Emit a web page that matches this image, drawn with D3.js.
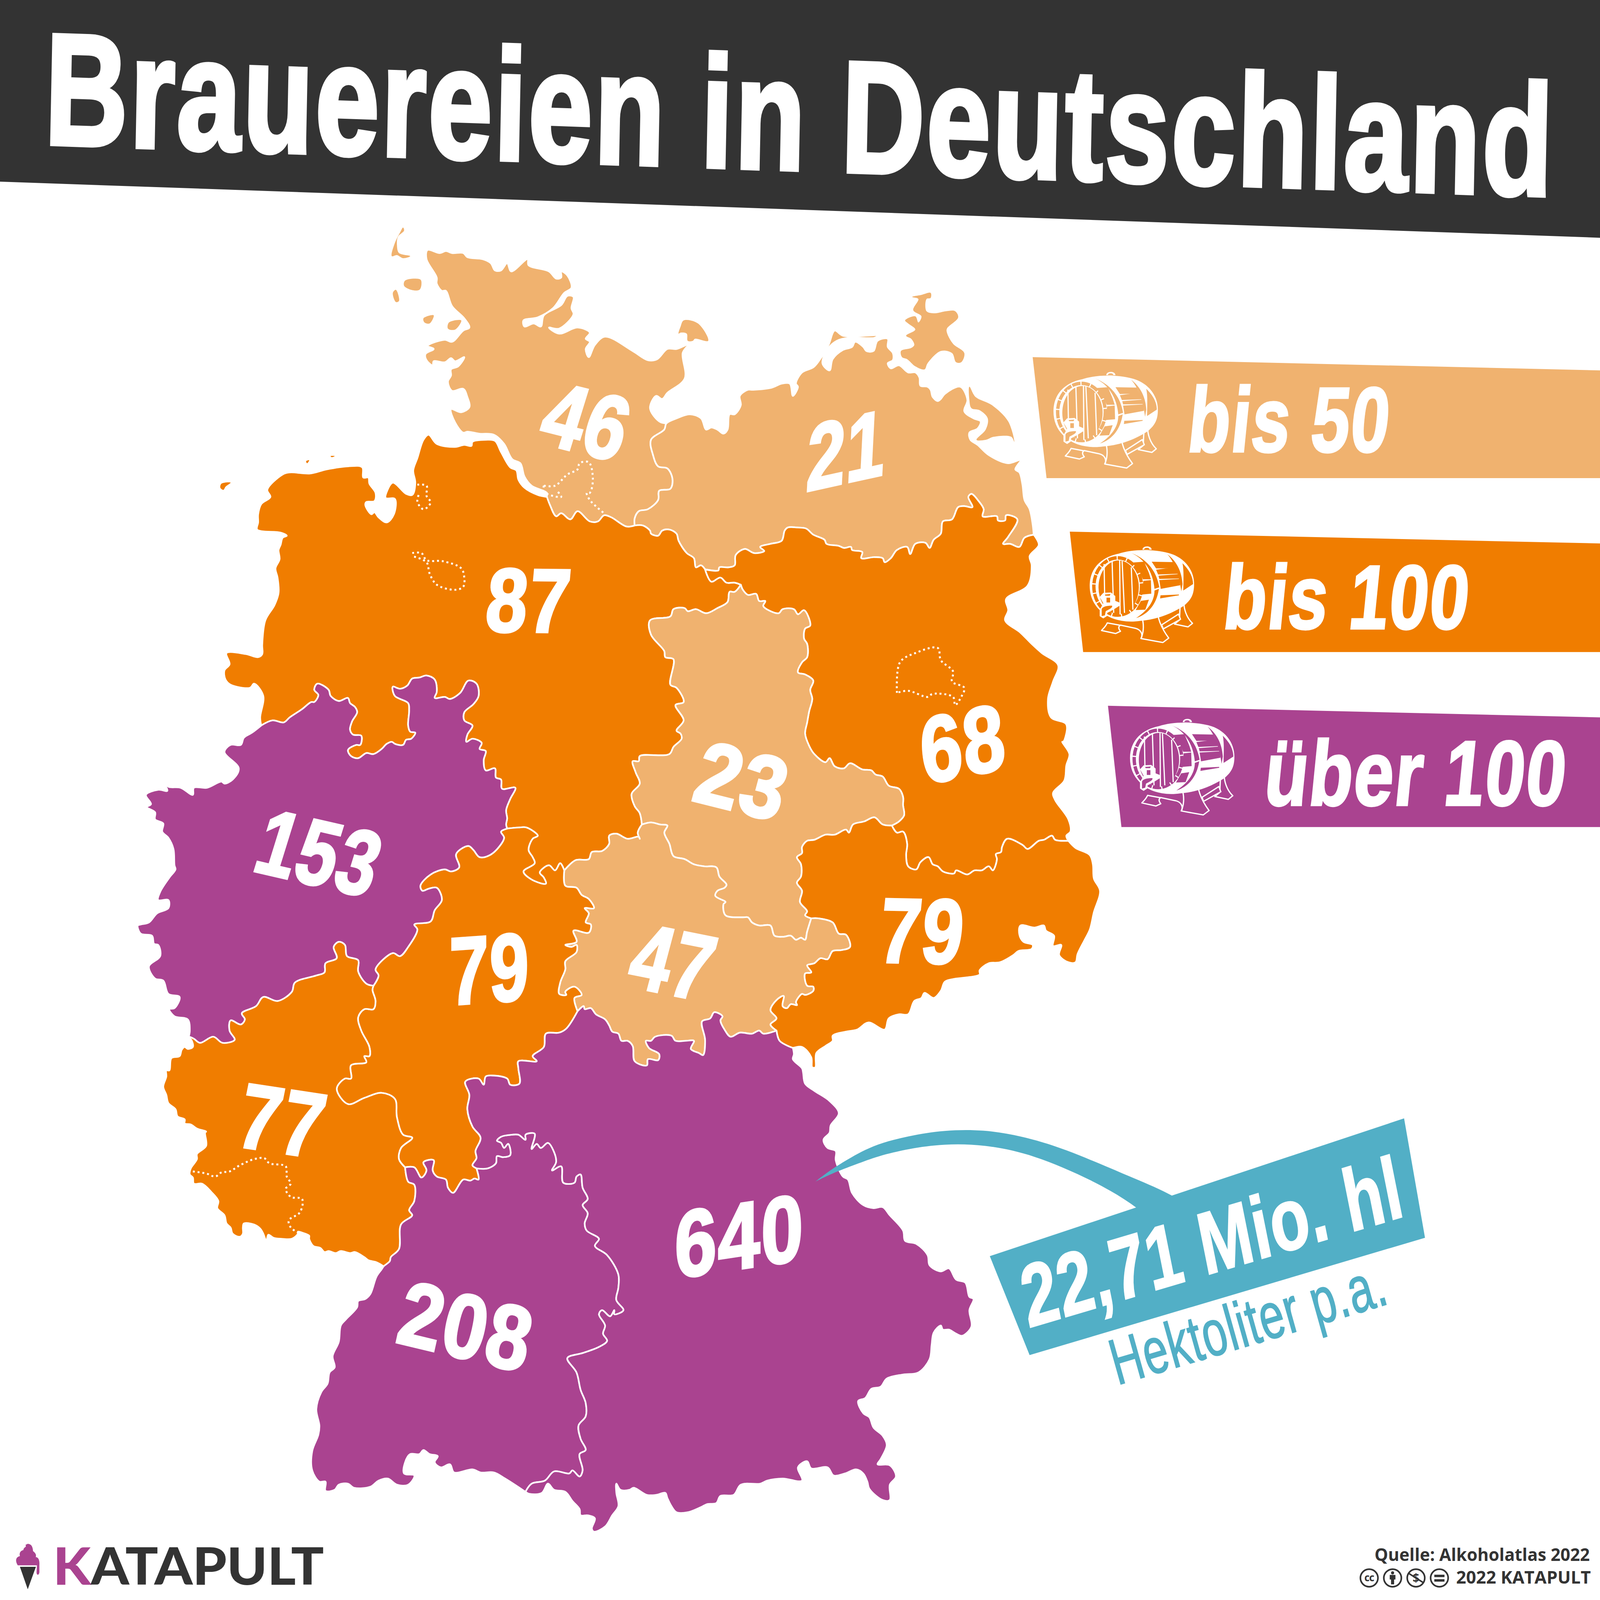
<!DOCTYPE html>
<meta charset="utf-8">
<title>Brauereien in Deutschland</title>
<style>
  html, body { margin: 0; background: #fff; overflow: hidden; }
  svg { display: block; }
</style>
<body>
<script src="https://d3js.org/d3.v7.min.js"></script>
<script>
// values
var states = ["SH", "MV", "NI", "BB", "ST", "SN", "TH", "HE", "NW", "RP", "BW", "BY"];
var breweries = [46, 21, 87, 68, 23, 79, 47, 79, 153, 77, 208, 640];
var classBreaks = [50, 100];
var classColours = ["#f0b26f", "#f07d00", "#aa4390"];
var legendLabels = ["bis 50", "bis 100", "über 100"];
var hectolitres = "22,71 Mio. hl";
var hectolitresNote = "Hektoliter p.a.";

// borders between the states, in picture units (1568 wide)
var shNorth = [[419,245],[431,248],[437,246],[443,248],[454,248],[458,252],[473,254],[481,258],[485,265],[491,265],[497,258],[501,266],[517,254],[518,260],[538,266],[545,273],[550,272],[550,266],[556,270],[560,282],[553,287],[542,302],[527,311],[513,314],[514,320],[523,317],[530,320],[533,309],[550,299],[556,290],[562,291],[560,302],[562,308],[548,322],[538,321],[548,327],[566,321],[578,326],[574,332],[578,335],[574,342],[577,350],[583,338],[593,330],[620,344],[635,353],[644,352],[654,342],[663,342],[674,338],[669,346],[671,371],[654,385],[649,391],[643,388],[637,400],[646,413],[653,415]];
var mvSh = [[653,415],[651,421],[638,431],[640,446],[645,457],[654,459],[659,469],[657,479],[646,481],[645,490],[635,499],[626,501],[622,508],[622,515]];
var shElbe = [[622,515],[614,516],[599,507],[592,505],[586,511],[578,511],[566,501],[559,509],[550,503],[545,506],[539,495],[536,487]];
var shWest = [[536,483],[521,476],[514,467],[510,454],[502,450],[494,435],[484,426],[470,425],[458,423],[454,424],[446,414],[442,401],[452,404],[460,399],[458,389],[454,381],[443,383],[439,374],[442,368],[442,362],[449,359],[455,350],[446,354],[442,351],[436,355],[425,354],[424,358],[418,353],[417,347],[425,342],[419,339],[436,333],[443,335],[454,324],[460,321],[455,312],[443,300],[437,285],[433,285],[428,278],[428,272],[418,254]];
var mvCoast = [[1013,524],[1012,514],[1009,499],[1004,490],[1002,475],[999,463],[995,460],[1000,451],[988,454],[969,446],[958,436],[951,431],[950,424],[958,420],[961,413],[954,410],[945,403],[948,392],[941,379],[926,386],[922,391],[919,393],[914,389],[912,382],[909,379],[902,378],[901,370],[897,365],[890,365],[881,358],[873,361],[870,356],[875,353],[875,346],[870,340],[870,332],[860,334],[856,344],[849,344],[846,340],[838,335],[835,340],[826,343],[816,352],[813,363],[806,356],[812,341],[820,334],[832,331],[857,331],[860,329],[826,329],[818,324],[812,338],[803,353],[797,360],[786,365],[780,376],[782,379],[777,388],[774,376],[766,376],[756,380],[738,382],[733,382],[725,388],[726,397],[720,406],[715,406],[713,421],[709,425],[703,421],[697,419],[692,421],[687,410],[676,406],[663,410]];
var mvNi = [[622,515],[630,515],[637,520],[638,523],[645,525],[649,520],[656,519],[663,523],[665,530],[673,542],[680,547],[682,556],[687,554],[691,558]];
var bbNi = [[726,573],[720,571],[712,571],[706,566],[697,570],[691,558]];
var mvBb = [[691,558],[704,559],[705,556],[714,556],[720,554],[721,544],[730,538],[739,542],[749,540],[745,536],[755,533],[766,530],[769,520],[772,517],[782,517],[790,518],[797,524],[808,529],[810,533],[822,535],[827,537],[834,536],[835,539],[845,541],[844,547],[857,546],[865,547],[867,551],[873,547],[879,539],[889,536],[892,543],[897,533],[907,532],[911,537],[915,529],[922,523],[924,511],[933,509],[939,497],[945,496],[953,497],[949,487],[952,484],[959,491],[964,499],[963,506],[977,506],[978,510],[985,510],[986,505],[997,509],[988,526],[983,533],[990,533],[999,536],[1004,527],[1013,524]];
var bbCoast = [[1013,524],[1018,534],[1009,545],[1011,554],[1007,574],[986,587],[988,598],[985,608],[1000,620],[1011,631],[1021,640],[1037,652],[1032,668],[1027,685],[1030,703],[1045,710],[1042,727],[1041,727],[1048,739],[1045,750],[1043,765],[1032,777],[1034,784],[1047,803],[1049,815],[1045,819],[1047,824]];
var bbSn = [[874,809],[879,816],[885,815],[889,827],[888,838],[890,849],[898,852],[902,845],[910,840],[914,847],[919,849],[924,854],[935,856],[937,853],[948,857],[955,853],[962,853],[969,849],[973,853],[977,842],[976,837],[981,835],[982,830],[987,822],[1002,828],[1007,832],[1018,824],[1023,823],[1031,819],[1034,823],[1047,824]];
var stBb = [[726,573],[728,578],[733,583],[741,582],[744,589],[750,589],[748,594],[763,601],[767,597],[778,597],[782,602],[788,598],[794,613],[789,616],[788,626],[791,631],[791,644],[786,649],[782,659],[789,661],[797,667],[794,676],[796,685],[793,697],[791,708],[789,719],[793,731],[798,739],[809,747],[813,743],[818,751],[827,753],[833,748],[845,754],[854,755],[858,759],[865,761],[871,770],[881,773],[885,781],[885,789],[886,799],[881,805],[874,809]];
var stSn = [[874,809],[865,808],[857,801],[847,805],[836,808],[832,816],[829,813],[818,818],[809,818],[798,823],[791,824],[786,830],[786,836],[781,840],[785,847],[785,859],[781,865],[786,873],[784,884],[791,893],[789,897],[795,900]];
var stTh = [[795,900],[791,913],[789,921],[785,919],[780,921],[775,917],[768,918],[759,917],[755,907],[744,907],[737,904],[733,899],[728,899],[711,897],[709,886],[711,884],[701,878],[703,873],[710,870],[712,867],[705,859],[702,850],[690,849],[680,847],[671,842],[660,839],[656,827],[651,816],[654,809],[647,808],[638,806],[629,808]];
var stNi = [[629,808],[627,797],[622,790],[619,778],[627,768],[623,757],[620,746],[626,746],[627,741],[656,739],[660,732],[668,724],[667,719],[663,716],[670,706],[662,691],[670,688],[663,674],[657,671],[660,646],[652,644],[651,638],[638,622],[637,608],[657,604],[660,597],[671,596],[674,599],[682,597],[692,601],[703,596],[713,590],[715,580],[720,580],[726,573]];
var thNi = [[553,853],[564,843],[577,842],[580,835],[590,834],[597,827],[597,819],[604,817],[615,822],[626,820],[627,822],[625,816],[629,808]];
var heNi = [[497,812],[508,811],[516,811],[527,819],[522,822],[518,833],[522,840],[524,846],[513,854],[521,862],[535,866],[533,860],[529,855],[538,848],[544,853],[549,846],[553,853]];
var heTh = [[566,991],[563,978],[570,975],[563,967],[554,972],[555,975],[548,974],[549,963],[554,950],[554,942],[565,933],[565,926],[560,928],[554,926],[565,923],[562,912],[577,914],[579,906],[574,904],[577,895],[573,890],[582,890],[577,881],[570,877],[565,870],[554,868],[553,853]];
var thSn = [[795,900],[802,900],[816,904],[822,915],[829,916],[833,928],[825,931],[816,932],[811,940],[804,939],[798,944],[791,946],[795,953],[789,954],[791,966],[797,967],[797,971],[789,975],[786,974],[780,982],[781,985],[775,984],[771,988],[767,986],[768,976],[761,980],[755,990],[761,998],[755,1004],[761,1010]];
var thBy = [[566,991],[572,986],[573,989],[579,988],[584,994],[593,999],[597,1005],[600,1011],[606,1013],[609,1020],[615,1020],[620,1025],[622,1040],[634,1044],[635,1038],[645,1039],[646,1033],[636,1027],[633,1020],[638,1020],[642,1016],[658,1015],[662,1020],[672,1020],[680,1020],[677,1028],[685,1032],[689,1034],[691,1019],[688,1001],[696,998],[700,992],[708,996],[706,1000],[710,1009],[716,1016],[725,1012],[737,1013],[744,1010],[748,1013],[761,1010]];
var snBy = [[761,1010],[764,1020],[777,1027]];
var snCoast = [[1047,824],[1054,831],[1068,838],[1071,847],[1072,861],[1078,873],[1072,894],[1068,911],[1063,921],[1056,935],[1054,943],[1047,943],[1038,936],[1040,926],[1032,927],[1033,917],[1025,912],[1023,907],[1014,909],[1000,907],[999,916],[1003,923],[1012,926],[1011,930],[998,932],[993,936],[980,943],[969,944],[960,951],[960,955],[946,958],[937,959],[926,962],[922,971],[915,978],[906,973],[903,978],[896,981],[890,994],[881,994],[871,998],[867,1009],[851,1002],[840,1009],[829,1011],[816,1015],[816,1020],[809,1025],[800,1032],[799,1046],[796,1046],[795,1036],[786,1026],[777,1027]];
var byEast = [[777,1027],[778,1033],[777,1038],[786,1047],[787,1051],[789,1062],[798,1069],[813,1079],[822,1091],[814,1103],[813,1110],[807,1117],[811,1125],[819,1128],[819,1137],[826,1153],[831,1156],[835,1169],[846,1181],[856,1184],[865,1183],[872,1191],[885,1206],[887,1216],[898,1219],[909,1230],[911,1240],[922,1246],[930,1243],[937,1254],[946,1257],[950,1271],[954,1273],[950,1284],[952,1300],[943,1309],[937,1307],[930,1303],[924,1303],[922,1299],[915,1306],[913,1318],[911,1332],[900,1345],[885,1347],[869,1351],[863,1359],[854,1361],[848,1370],[841,1373],[846,1385],[852,1389],[856,1399],[865,1407],[869,1416],[863,1430],[860,1435],[872,1436],[878,1447],[872,1455],[872,1470],[865,1470],[852,1459],[850,1452],[846,1444],[839,1440],[828,1444],[817,1446],[811,1438],[795,1439],[791,1432],[782,1438],[786,1451],[767,1449],[752,1451],[745,1454],[726,1455],[719,1465],[706,1466],[702,1473],[693,1474],[687,1477],[674,1482],[663,1482],[658,1476],[654,1468],[652,1463],[643,1465],[634,1465],[621,1458],[617,1460],[608,1460],[604,1454],[604,1463],[606,1476],[600,1485],[593,1496],[582,1501],[580,1498],[583,1488],[576,1485],[569,1485],[568,1479],[561,1471],[554,1462],[543,1460],[537,1454],[531,1463],[519,1464],[515,1462]];
var nwCoast = [[536,487],[527,485],[514,478],[508,470],[506,461],[500,458],[491,443],[485,432],[476,431],[463,433],[462,437],[455,436],[446,438],[428,435],[420,426],[415,431],[409,449],[405,461],[407,473],[404,485],[398,484],[385,473],[379,482],[378,488],[387,489],[386,504],[379,512],[371,507],[367,502],[364,504],[358,495],[359,492],[367,491],[368,483],[362,474],[361,468],[356,468],[355,458],[341,457],[320,460],[304,464],[284,463],[277,465],[262,480],[265,487],[256,494],[253,504],[253,512],[252,519],[275,522],[281,525],[277,527],[275,534],[273,539],[274,548],[270,557],[272,566],[273,581],[269,593],[260,608],[257,632],[257,641],[253,644],[241,641],[222,640],[225,651],[220,657],[221,666],[226,671],[245,674],[249,670],[258,682],[255,703],[256,711]];
var niNrw = [[256,711],[267,706],[278,708],[284,703],[296,695],[305,688],[308,688],[312,681],[308,676],[311,670],[322,676],[324,682],[332,687],[341,684],[343,689],[348,693],[350,698],[345,707],[343,715],[346,720],[354,721],[353,730],[349,730],[341,735],[344,741],[351,743],[359,738],[366,739],[374,734],[379,729],[384,727],[387,729],[395,730],[398,725],[403,724],[407,718],[402,717],[400,711],[401,696],[400,689],[387,682],[385,673],[392,675],[399,672],[404,665],[411,664],[418,662],[426,666],[428,678],[426,684],[436,683],[441,685],[451,679],[459,667],[467,670],[469,682],[464,690],[455,698],[455,706],[463,711],[458,720],[457,727],[463,724],[472,728],[470,734],[476,736],[474,745],[476,755],[485,753],[486,762],[491,764],[492,773],[505,772],[500,783],[496,794],[497,802],[496,808],[497,812]];
var heNrw = [[366,966],[371,956],[368,950],[385,934],[392,937],[400,928],[409,911],[406,906],[422,903],[426,892],[433,882],[428,870],[420,871],[414,873],[412,868],[422,857],[436,852],[442,854],[450,850],[447,837],[459,829],[464,833],[470,840],[480,838],[489,830],[494,821],[491,815],[497,812]];
var nrwCoast = [[256,711],[247,718],[239,723],[236,730],[226,730],[220,737],[234,753],[228,764],[220,768],[217,766],[203,772],[190,772],[189,779],[177,772],[165,771],[160,766],[164,775],[155,774],[143,779],[148,788],[144,791],[152,796],[152,803],[160,807],[159,815],[165,821],[170,832],[171,848],[172,852],[166,860],[157,874],[155,882],[165,882],[165,890],[154,895],[146,904],[138,906],[135,907],[138,915],[149,917],[151,925],[155,926],[157,937],[146,947],[152,959],[160,961],[165,974],[176,977],[171,988],[166,989],[171,996],[184,999],[186,1010],[185,1016]];
var nrwRp = [[185,1016],[190,1018],[196,1022],[209,1016],[218,1022],[230,1019],[225,1010],[226,1000],[236,1004],[240,999],[237,993],[251,986],[258,977],[272,981],[286,972],[289,963],[310,956],[318,953],[319,944],[330,939],[327,928],[332,923],[338,926],[340,937],[351,941],[351,952],[359,964],[366,966]];
var heRp = [[366,966],[365,970],[368,981],[366,989],[357,989],[351,997],[354,1010],[362,1026],[362,1035],[357,1035],[359,1041],[344,1044],[344,1057],[338,1057],[330,1067],[341,1082],[357,1076],[374,1071],[387,1077],[389,1095],[395,1112],[404,1115],[393,1125],[391,1136],[397,1144]];
var rpBw = [[397,1144],[400,1158],[406,1161],[406,1177],[401,1186],[404,1191],[393,1200],[391,1224],[383,1232],[382,1236],[376,1241]];
var rpCoast = [[376,1241],[369,1237],[361,1235],[357,1232],[348,1227],[343,1228],[334,1226],[329,1228],[322,1226],[318,1227],[314,1223],[307,1221],[303,1214],[303,1211],[296,1208],[292,1207],[292,1209],[286,1214],[276,1214],[268,1213],[263,1210],[261,1216],[258,1209],[255,1204],[249,1200],[239,1199],[238,1203],[238,1209],[235,1212],[228,1209],[226,1203],[222,1199],[220,1191],[213,1184],[214,1177],[207,1168],[198,1160],[190,1160],[189,1154],[186,1151],[187,1145],[193,1136],[193,1131],[202,1123],[201,1110],[202,1109],[193,1106],[187,1102],[181,1101],[181,1097],[174,1094],[172,1087],[165,1081],[163,1073],[160,1065],[163,1055],[163,1049],[166,1049],[168,1037],[176,1035],[178,1029],[181,1026],[184,1028],[189,1026],[188,1020]];
var heBw = [[397,1144],[406,1144],[413,1154],[418,1147],[415,1139],[425,1137],[424,1147],[428,1153],[437,1156],[439,1164],[444,1169],[454,1156],[461,1157],[465,1155],[469,1156],[467,1145]];
var heBy = [[467,1145],[463,1142],[467,1135],[466,1128],[471,1115],[463,1104],[458,1087],[460,1073],[456,1060],[469,1057],[474,1063],[476,1055],[482,1054],[497,1057],[500,1063],[509,1062],[508,1047],[508,1040],[526,1040],[522,1035],[533,1026],[535,1013],[548,1012],[555,1008],[566,991]];
var bwBy = [[467,1145],[478,1145],[486,1140],[487,1133],[493,1134],[500,1132],[498,1121],[494,1125],[491,1120],[487,1118],[491,1114],[502,1112],[508,1112],[515,1117],[515,1112],[524,1111],[521,1126],[526,1121],[530,1125],[537,1120],[543,1129],[545,1139],[541,1147],[550,1143],[552,1159],[563,1159],[565,1153],[569,1151],[571,1164],[576,1175],[571,1181],[576,1189],[573,1199],[575,1206],[587,1214],[583,1221],[595,1230],[606,1249],[606,1262],[604,1274],[611,1284],[602,1288],[602,1284],[598,1290],[590,1284],[587,1288],[593,1299],[591,1307],[595,1314],[587,1320],[571,1326],[556,1331],[565,1345],[569,1362],[574,1375],[574,1388],[567,1397],[569,1410],[574,1421],[568,1425],[571,1441],[568,1447],[561,1441],[558,1444],[543,1442],[534,1451],[521,1454],[515,1462]];
var bwCoast = [[515,1462],[495,1449],[484,1443],[471,1443],[463,1440],[445,1443],[441,1435],[432,1438],[426,1433],[429,1427],[421,1425],[415,1421],[411,1425],[402,1425],[397,1433],[396,1444],[406,1446],[400,1455],[389,1455],[380,1449],[371,1451],[363,1457],[347,1458],[341,1454],[332,1455],[328,1460],[319,1461],[319,1452],[313,1452],[306,1441],[306,1422],[312,1406],[313,1397],[310,1381],[315,1364],[321,1356],[323,1345],[328,1340],[326,1329],[332,1315],[334,1299],[339,1293],[350,1281],[351,1275],[358,1273],[363,1268],[369,1251],[374,1244]];

// islands
var islands = [
  {state: "SH", ring: [[670,314],[684,317],[694,334],[681,332],[679,334],[674,334],[673,327],[667,326],[665,327],[667,320]]},
  {state: "SH", ring: [[395,223],[396,226],[390,232],[389,240],[391,248],[402,251],[395,253],[389,250],[384,251],[387,238],[392,228]]},
  {state: "SH", ring: [[397,275],[412,274],[413,279],[411,284],[403,284],[396,280]]},
  {state: "SH", ring: [[388,284],[391,295],[388,296],[385,287]]},
  {state: "SH", ring: [[425,309],[421,317],[416,316],[415,312]]},
  {state: "SH", ring: [[452,314],[446,323],[439,322],[440,316]]},
  {state: "NI", ring: [[217,474],[226,473],[221,477],[219,480],[216,478]]},
  {state: "NI", ring: [[300,452],[303,451],[301,454]]},
  {state: "NI", ring: [[324,447],[328,447],[325,448]]},
  {state: "MV", ring: [[912,287],[912,292],[908,293],[908,305],[916,307],[927,305],[936,305],[939,311],[928,322],[928,326],[934,337],[945,346],[942,355],[937,355],[933,346],[922,344],[909,356],[906,362],[897,359],[889,352],[884,350],[883,344],[893,341],[896,338],[893,332],[888,329],[897,323],[890,317],[887,314],[897,310],[900,316],[903,310],[895,304],[900,293],[894,291],[903,289]]},
  {state: "MV", ring: [[950,379],[956,389],[972,397],[988,413],[994,433],[991,428],[974,428],[966,431],[957,431],[966,421],[968,410],[960,402],[952,400],[950,392]]}
];

// city states and Saarland, dotted
var dottedOutlines = [
  [[533,476],[544,476],[556,465],[566,460],[568,454],[577,453],[581,470],[578,483],[575,483],[578,490],[592,503]],
  [[533,476],[533,482],[550,487],[545,480]],
  [[409,475],[418,476],[418,486],[422,492],[419,497],[415,499],[412,497],[409,491],[411,483]],
  [[404,542],[413,542],[418,549],[434,550],[452,557],[455,566],[454,575],[446,578],[428,573],[421,562],[418,551],[404,545]],
  [[879,679],[882,649],[897,640],[919,635],[922,647],[934,658],[933,668],[945,674],[942,683],[936,691],[934,683],[914,680],[909,683],[890,677],[879,679]],
  [[189,1148],[202,1150],[211,1153],[217,1149],[225,1148],[235,1142],[249,1136],[259,1135],[264,1140],[280,1143],[281,1153],[285,1160],[280,1165],[285,1173],[296,1175],[294,1188],[283,1196],[285,1203],[292,1208]]
];

// where the numbers sit: baseline start, width, height, tilt and lean
var numberPlaces = {
  SH: {x: 524, y: 434, w: 83.5, h: 64, slope: 0.25, lean: 0.31},
  MV: {x: 788, y: 483, w: 80, h: 69, slope: -0.22, lean: 0.05},
  NI: {x: 473, y: 620, w: 85.5, h: 66, slope: 0.01, lean: 0.09},
  BB: {x: 904, y: 770, w: 85.5, h: 68, slope: -0.2, lean: -0.1},
  ST: {x: 675, y: 785, w: 89.5, h: 63, slope: 0.25, lean: 0.27},
  SN: {x: 858, y: 944, w: 85.5, h: 67, slope: 0.02, lean: 0.1},
  TH: {x: 611, y: 967, w: 81.5, h: 66, slope: 0.2, lean: 0.265},
  HE: {x: 439, y: 986, w: 81.5, h: 70, slope: -0.07, lean: 0},
  NW: {x: 244, y: 854, w: 119.5, h: 65, slope: 0.23, lean: 0.31},
  RP: {x: 228, y: 1124, w: 85.5, h: 66, slope: 0.15, lean: 0.2},
  BW: {x: 385, y: 1316, w: 130.5, h: 65, slope: 0.24, lean: 0.22},
  BY: {x: 660, y: 1254, w: 129.5, h: 69, slope: -0.147, lean: 0}
};

// the window may report fewer css pixels than the photo has
var size = Math.min(window.innerWidth, window.innerHeight) || 6667;
var x = d3.scaleLinear().domain([0, 1568]).range([0, size]);
var y = d3.scaleLinear().domain([0, 1568]).range([0, size]);
var k = size / 1568;

var colour = d3.scaleThreshold().domain(classBreaks).range(classColours);
var dark = "#333333";
var teal = "#52afc6";

var narrow = "'Liberation Sans Narrow', 'Liberation Sans', sans-serif";

var svg = d3.select("body").append("svg")
    .attr("width", size)
    .attr("height", size);

var ring = d3.line().x(function(d) { return x(d[0]); }).y(function(d) { return y(d[1]); }).curve(d3.curveCatmullRomClosed.alpha(0.5));
var open = d3.line().x(function(d) { return x(d[0]); }).y(function(d) { return y(d[1]); }).curve(d3.curveCatmullRom.alpha(0.5));
var flat = d3.line().x(function(d) { return x(d[0]); }).y(function(d) { return y(d[1]); }).curve(d3.curveLinearClosed);

function rev(a) { return a.slice().reverse(); }

// text squeezed to a width and sheared, so it follows the picture's slanted lettering
function placedText(parent, str, p, opt) {
  var capRatio = opt.capRatio || 0.72;
  var thick = opt.thick || 0;
  var t = parent.append("text")
      .attr("font-family", opt.font || narrow)
      .attr("font-weight", opt.weight || "bold")
      .attr("font-size", (p.h - thick) / capRatio * k)
      .attr("fill", opt.fill)
      .text(str);
  if (opt.spacing) t.attr("letter-spacing", opt.spacing * k);
  if (thick) t.attr("stroke", opt.fill).attr("stroke-width", thick * k).attr("stroke-linejoin", "miter");
  var w0 = t.node().getComputedTextLength();
  var a = (p.w - thick) * k / w0;
  t.attr("transform", "matrix(" + [a, a * (p.slope || 0), -(p.lean || 0), 1, x(p.x + thick / 2), y(p.y - thick / 2)].join(",") + ")");
  return t;
}

// title band
svg.append("path").attr("fill", dark)
    .attr("d", flat([[0, 0], [1568, 0], [1568, 233], [0, 178]]));
placedText(svg, "Brauereien in Deutschland", {x: 41, y: 143, w: 1484, h: 116, slope: 0.0346, lean: 0.02}, {fill: "#fff", thick: 4.5, spacing: 3});

// states
var rings = {
  SH: [].concat(shNorth, mvSh, shElbe, shWest),
  MV: [].concat(mvCoast, mvSh, mvNi, mvBb),
  NI: [].concat(shElbe, nwCoast, niNrw, heNi, thNi, stNi, bbNi, rev(mvNi)),
  BB: [].concat(mvBb, bbCoast, rev(bbSn), rev(stBb), bbNi),
  ST: [].concat(stBb, stSn, stTh, stNi),
  SN: [].concat(bbSn, snCoast, rev(snBy), rev(thSn), rev(stSn)),
  TH: [].concat(thSn, rev(thBy), heTh, thNi, rev(stTh)),
  HE: [].concat(heNrw, heNi, rev(heTh), rev(heBy), rev(heBw), rev(heRp)),
  NW: [].concat(niNrw, rev(heNrw), rev(nrwRp), rev(nrwCoast)),
  RP: [].concat(nrwRp, heRp, rpBw, rpCoast),
  BW: [].concat(heBw, bwBy, bwCoast, rev(rpBw)),
  BY: [].concat(heBy, thBy, snBy, byEast, rev(bwBy))
};
var valueOf = {};
states.forEach(function(s, i) { valueOf[s] = breweries[i]; });

var map = svg.append("g");
map.selectAll("path.state").data(states).enter().append("path")
    .attr("class", "state")
    .attr("d", function(s) { return ring(rings[s]); })
    .attr("fill", function(s) { return colour(valueOf[s]); })
    .attr("stroke", "#fff")
    .attr("stroke-width", 1.6 * k)
    .attr("stroke-linejoin", "round");

map.selectAll("path.island").data(islands).enter().append("path")
    .attr("class", "island")
    .attr("d", function(d) { return ring(d.ring); })
    .attr("fill", function(d) { return colour(valueOf[d.state]); });

map.selectAll("path.dotted").data(dottedOutlines).enter().append("path")
    .attr("class", "dotted")
    .attr("d", open)
    .attr("fill", "none")
    .attr("stroke", "#fff")
    .attr("stroke-width", 1.9 * k)
    .attr("stroke-dasharray", (1.9 * k) + " " + (2.8 * k));

// numbers on the states
states.forEach(function(s) {
  placedText(svg, String(valueOf[s]), numberPlaces[s], {fill: "#fff", thick: 2.5, spacing: 1.5});
});

// barrel icon, drawn on a 1560 wide grid
function barrel(parent, ox, oy, fill) {
  var g = parent.append("g")
      .attr("transform", "translate(" + x(ox) + "," + y(oy) + ") scale(" + (k * 0.0784) + ")");
  function shape(d, f, s, sw) {
    g.append("path").attr("d", d).attr("fill", f || fill)
        .attr("stroke", s || "none").attr("stroke-width", sw || 0).attr("stroke-linejoin", "round");
  }
  shape("M780,130 C775,80 890,70 895,130Z", "#fff");
  shape("M800,128 C800,100 870,100 868,128Z");
  // legs
  shape("M1300,770 C1290,860 1330,980 1405,1050 L1350,1095 L1180,1060 L1240,1010 C1250,960 1240,870 1260,780Z", fill, "#fff", 16);
  shape("M1020,1070 L1230,935 L1255,1000 L1040,1120Z", fill, "#fff", 16);
  shape("M340,1045 C320,1090 295,1110 268,1140 L445,1178 L505,1150 C480,1120 475,1095 500,1075Z", fill, "#fff", 16);
  shape("M780,1000 C800,1090 790,1180 760,1240 L1035,1290 L1108,1235 C1030,1130 960,1000 965,850Z", fill, "#fff", 16);
  shape("M500,1072 L690,1112 C745,1125 790,1170 765,1240", "none", "#fff", 16);
  // body
  shape("M120,580 C120,350 280,220 480,180 C650,125 900,120 1100,170 C1300,220 1425,380 1425,560 C1425,700 1380,760 1300,830 C1100,960 900,1010 750,1020 C550,1050 350,1000 240,880 C160,800 120,700 120,580Z", "#fff");
  // staves between the hoops
  shape("M895,280 L1160,285 L1195,360 L950,365Z");
  shape("M950,380 L1200,345 L1225,430 L975,440Z");
  shape("M980,455 L1230,435 L1240,490 L990,495Z");
  shape("M990,510 L1245,495 L1250,575 L1008,620Z");
  shape("M1005,700 L1235,690 L1235,700 L1000,740Z");
  shape("M1280,300 C1350,370 1410,450 1412,560 L1290,640 C1290,520 1300,400 1280,300Z");
  shape("M660,290 L800,280 L860,420 L715,400Z");
  shape("M740,395 L860,420 L885,500 L785,500Z");
  shape("M790,520 L885,510 L890,680 L775,690Z");
  shape("M760,770 L860,755 L815,880 L695,885Z");
  shape("M640,170 C800,240 910,400 930,620 L990,600 C960,420 860,260 640,170Z");
  shape("M930,640 C930,760 860,880 700,985 C870,930 960,790 985,620Z");
  shape("M1090,185 C1210,280 1270,400 1280,560 L1265,650 C1240,470 1190,300 1090,185Z");
  // rim segments and head
  g.append("ellipse").attr("cx", 470).attr("cy", 590).attr("rx", 298).attr("ry", 358)
      .attr("fill", "none").attr("stroke", fill).attr("stroke-width", 42).attr("stroke-dasharray", "105 14");
  g.append("ellipse").attr("cx", 482).attr("cy", 600).attr("rx", 252).attr("ry", 335).attr("fill", fill);
  [[300,310,310,890],[400,275,420,920],[495,265,500,940],[525,270,555,920],[640,350,660,880]].forEach(function(l) {
    g.append("line").attr("x1", l[0]).attr("y1", l[1]).attr("x2", l[2]).attr("y2", l[3])
        .attr("stroke", "#fff").attr("stroke-width", 15);
  });
  // tap
  shape("M245,720 L290,670 L385,665 L440,710 L440,770 L490,790 L495,830 L415,880 L340,920 L335,960 L290,990 L245,960 L245,880 L290,800Z", "#fff");
  shape("M310,690 L380,685 L370,705 L315,705Z");
  shape("M330,730 L375,730 L375,790 L330,790Z");
  shape("M270,870 C290,840 330,830 400,830 C410,860 350,880 320,900 L310,950 L270,960Z");
}

// legend
var legendBands = [
  [[1012, 350], [1568, 363], [1568, 468.6], [1025.6, 468.6]],
  [[1048.4, 521], [1568, 532.6], [1568, 639], [1061.5, 639]],
  [[1085.8, 691.6], [1568, 703], [1568, 810.5], [1099, 810.5]]
];
var legendText = [
  {x: 1161, y: 443.5, w: 200, h: 67, lean: 0.1},
  {x: 1196, y: 617, w: 243, h: 66, lean: 0.1},
  {x: 1236, y: 790, w: 298, h: 67, lean: 0.1}
];
var barrelOrigins = [[1023, 357.5], [1058.5, 528.5], [1098, 697.5]];

legendLabels.forEach(function(label, i) {
  var c = classColours[i];
  svg.append("path").attr("fill", c).attr("d", flat(legendBands[i]));
  barrel(svg, barrelOrigins[i][0], barrelOrigins[i][1], c);
  placedText(svg, label, legendText[i], {fill: "#fff", thick: 2.2, spacing: 1.5});
});

// callout
svg.append("path").attr("fill", teal)
    .attr("d", d3.line().x(function(d) { return x(d[0]); }).y(function(d) { return y(d[1]); }).curve(d3.curveBasis)([
      [799, 1158], [799, 1158], [812, 1148], [826, 1139], [855, 1122], [891, 1113], [925, 1107.5], [964, 1107], [1000, 1113], [1042, 1125], [1102, 1151], [1149, 1170], [1185, 1195],
      [1150, 1215], [1116, 1183], [1072, 1157], [1012, 1131], [964, 1121.5], [925, 1121], [891, 1125.5], [860, 1133], [839, 1141], [815, 1150], [799, 1158], [799, 1158]
    ]));
svg.append("path").attr("fill", teal)
    .attr("d", flat([[970, 1231], [1376, 1096], [1396.5, 1213], [1009, 1328]]));
placedText(svg, hectolitres, {x: 1007, y: 1302, w: 372.5, h: 62, slope: -0.297, lean: -0.2}, {fill: "#fff", thick: 1.5, spacing: 1});
placedText(svg, hectolitresNote, {x: 1094.5, y: 1358, w: 269, h: 45, slope: -0.3, lean: -0.28}, {fill: teal, weight: "normal", thick: 0.9, spacing: 1});

// logo
svg.append("path").attr("fill", "#aa4390")
    .attr("d", "M" + x(27) + "," + y(1513) + " C" + x(31) + "," + y(1513) + " " + x(32) + "," + y(1516) + " " + x(32.4) + "," + y(1520) +
      " L" + x(32.2) + "," + y(1520) + " C" + x(35) + "," + y(1522) + " " + x(35.8) + "," + y(1524) + " " + x(35) + "," + y(1526) +
      " C" + x(38) + "," + y(1526) + " " + x(39) + "," + y(1530) + " " + x(38.6) + "," + y(1534) +
      " L" + x(38.6) + "," + y(1541) + " C" + x(38) + "," + y(1544) + " " + x(36) + "," + y(1544) + " " + x(35.8) + "," + y(1541) +
      " L" + x(36.2) + "," + y(1534) + " L" + x(17.4) + "," + y(1534) +
      " C" + x(15) + "," + y(1530) + " " + x(15) + "," + y(1526) + " " + x(19.5) + "," + y(1525) +
      " C" + x(19) + "," + y(1523) + " " + x(19) + "," + y(1520) + " " + x(23) + "," + y(1519) +
      " C" + x(23) + "," + y(1516) + " " + x(26.5) + "," + y(1516.5) + " " + x(25) + "," + y(1514) + " Z");
svg.append("path").attr("fill", dark).attr("d", flat([[19.5, 1535.5], [35.2, 1535.5], [27.2, 1557.5]]));

var logo = svg.append("text")
    .attr("font-family", "Lato, sans-serif").attr("font-weight", 900)
    .attr("font-size", 36 / 0.72 * k).attr("fill", dark);
logo.append("tspan").attr("fill", "#aa4390").text("K");
logo.append("tspan").text("ATAPULT");
logo.attr("transform", "matrix(" + [265.5 * k / logo.node().getComputedTextLength(), 0, 0, 1, x(52), y(1553)].join(",") + ")");

// source
var openSans = "'Open Sans', sans-serif";
placedText(svg, "Quelle: Alkoholatlas 2022", {x: 1347, y: 1529.6, w: 211, h: 12.3}, {fill: dark, font: openSans, capRatio: 0.714});
placedText(svg, "2022 KATAPULT", {x: 1427, y: 1552, w: 132, h: 12.3}, {fill: dark, font: openSans, capRatio: 0.714});

// licence badges
var badges = ["cc", "by", "nc", "nd"];
var badgeX = d3.scalePoint().domain(badges).range([1341.8, 1410.6]);
var badgeY = 1546.4;
badges.forEach(function(b) {
  var cx = badgeX(b);
  svg.append("circle").attr("cx", x(cx)).attr("cy", y(badgeY)).attr("r", 8.6 * k)
      .attr("fill", "#fff").attr("stroke", dark).attr("stroke-width", 1.6 * k);
  if (b === "cc") {
    svg.append("text").attr("x", x(cx)).attr("y", y(badgeY + 3.2)).attr("text-anchor", "middle")
        .attr("font-family", openSans).attr("font-weight", "bold").attr("font-size", 10 * k).attr("fill", dark)
        .attr("letter-spacing", -0.4 * k).text("cc");
  } else if (b === "by") {
    svg.append("circle").attr("cx", x(cx)).attr("cy", y(badgeY - 5)).attr("r", 1.5 * k).attr("fill", dark);
    svg.append("path").attr("fill", dark)
        .attr("d", flat([[cx - 2.8, badgeY - 3], [cx + 2.8, badgeY - 3], [cx + 2.8, badgeY + 1.5], [cx + 1.5, badgeY + 1.5], [cx + 1.5, badgeY + 6.3], [cx - 1.5, badgeY + 6.3], [cx - 1.5, badgeY + 1.5], [cx - 2.8, badgeY + 1.5]]));
  } else if (b === "nc") {
    svg.append("text").attr("x", x(cx)).attr("y", y(badgeY + 4)).attr("text-anchor", "middle")
        .attr("font-family", openSans).attr("font-weight", "bold").attr("font-size", 11.5 * k).attr("fill", dark).text("$");
    svg.append("line").attr("x1", x(cx - 7.2)).attr("y1", y(badgeY - 4.6)).attr("x2", x(cx + 7.2)).attr("y2", y(badgeY + 4.6))
        .attr("stroke", dark).attr("stroke-width", 1.5 * k);
  } else {
    [-3.2, 1.2].forEach(function(dy) {
      svg.append("path").attr("fill", dark)
          .attr("d", flat([[cx - 5, badgeY + dy], [cx + 5, badgeY + dy], [cx + 5, badgeY + dy + 2.4], [cx - 5, badgeY + dy + 2.4]]));
    });
  }
});
</script>
</body>
